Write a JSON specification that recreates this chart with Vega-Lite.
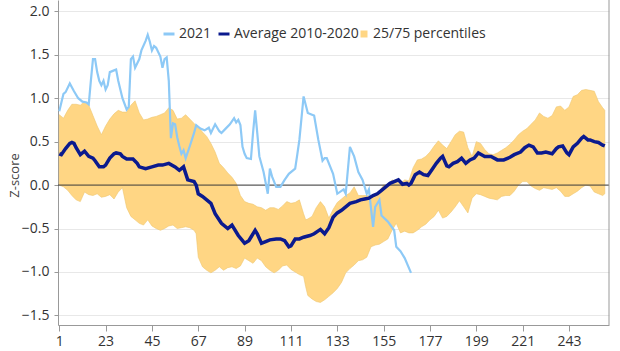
{
"$schema": "https://vega.github.io/schema/vega-lite/v6.json",
"autosize": "none",
"width": 551,
"height": 325,
"padding": {"left": 58, "top": 0, "right": 11, "bottom": 26},
"background": "white",
"config": {
 "font": "Open Sans",
 "view": {"stroke": null},
 "axis": {"labelFont": "Open Sans", "labelFontSize": 14, "labelColor": "#333", "domainColor": "#999", "tickColor": "#999", "titleFont": "Open Sans"},
 "legend": {"labelFont": "Open Sans", "labelFontSize": 14, "labelColor": "#333", "padding": 0}
},
"datasets": {
 "band": [
{"day":1,"p75":0.81,"p25":0.0},{"day":3,"p75":0.77,"p25":-0.02},{"day":5,"p75":0.86,"p25":-0.06},{"day":7,"p75":0.93,"p25":-0.12},{"day":9,"p75":0.93,"p25":-0.17},{"day":11,"p75":0.92,"p25":-0.19},{"day":13,"p75":0.96,"p25":-0.08},{"day":15,"p75":0.92,"p25":-0.11},{"day":17,"p75":0.8,"p25":-0.12},{"day":19,"p75":0.68,"p25":-0.1},{"day":21,"p75":0.58,"p25":-0.14},{"day":23,"p75":0.68,"p25":-0.13},{"day":25,"p75":0.76,"p25":-0.11},{"day":27,"p75":0.82,"p25":-0.16},{"day":29,"p75":0.86,"p25":-0.08},{"day":31,"p75":0.84,"p25":-0.03},{"day":33,"p75":0.84,"p25":-0.26},{"day":35,"p75":0.92,"p25":-0.36},{"day":37,"p75":0.97,"p25":-0.4},{"day":39,"p75":0.83,"p25":-0.44},{"day":41,"p75":0.75,"p25":-0.46},{"day":43,"p75":0.76,"p25":-0.4},{"day":45,"p75":0.78,"p25":-0.47},{"day":47,"p75":0.79,"p25":-0.5},{"day":49,"p75":0.81,"p25":-0.52},{"day":51,"p75":0.83,"p25":-0.5},{"day":53,"p75":0.89,"p25":-0.47},{"day":55,"p75":0.86,"p25":-0.46},{"day":57,"p75":0.76,"p25":-0.5},{"day":59,"p75":0.77,"p25":-0.49},{"day":61,"p75":0.81,"p25":-0.48},{"day":63,"p75":0.76,"p25":-0.49},{"day":65,"p75":0.71,"p25":-0.52},{"day":66,"p75":0.68,"p25":-0.56},{"day":67,"p75":0.67,"p25":-0.83},{"day":69,"p75":0.61,"p25":-0.94},{"day":71,"p75":0.56,"p25":-0.98},{"day":73,"p75":0.48,"p25":-1.01},{"day":75,"p75":0.38,"p25":-0.98},{"day":77,"p75":0.25,"p25":-0.94},{"day":79,"p75":0.2,"p25":-0.98},{"day":81,"p75":0.14,"p25":-0.95},{"day":83,"p75":0.09,"p25":-0.94},{"day":85,"p75":0.02,"p25":-0.96},{"day":87,"p75":-0.12,"p25":-0.93},{"day":89,"p75":-0.19,"p25":-0.84},{"day":91,"p75":-0.21,"p25":-0.87},{"day":93,"p75":-0.22,"p25":-0.9},{"day":95,"p75":-0.25,"p25":-0.84},{"day":97,"p75":-0.26,"p25":-0.87},{"day":99,"p75":-0.29,"p25":-0.94},{"day":101,"p75":-0.26,"p25":-0.98},{"day":103,"p75":-0.26,"p25":-1.01},{"day":105,"p75":-0.28,"p25":-0.98},{"day":107,"p75":-0.24,"p25":-0.93},{"day":109,"p75":-0.19,"p25":-0.92},{"day":111,"p75":-0.21,"p25":-0.97},{"day":113,"p75":-0.2,"p25":-1.0},{"day":115,"p75":-0.17,"p25":-1.03},{"day":117,"p75":-0.33,"p25":-1.05},{"day":118,"p75":-0.4,"p25":-1.17},{"day":119,"p75":-0.39,"p25":-1.27},{"day":121,"p75":-0.36,"p25":-1.31},{"day":123,"p75":-0.26,"p25":-1.34},{"day":125,"p75":-0.19,"p25":-1.35},{"day":127,"p75":-0.25,"p25":-1.32},{"day":129,"p75":-0.38,"p25":-1.28},{"day":131,"p75":-0.28,"p25":-1.24},{"day":133,"p75":-0.2,"p25":-1.19},{"day":135,"p75":-0.16,"p25":-1.12},{"day":137,"p75":-0.12,"p25":-1.01},{"day":139,"p75":-0.09,"p25":-0.96},{"day":141,"p75":-0.02,"p25":-0.92},{"day":143,"p75":-0.12,"p25":-0.87},{"day":145,"p75":-0.12,"p25":-0.86},{"day":147,"p75":-0.12,"p25":-0.83},{"day":149,"p75":-0.13,"p25":-0.71},{"day":151,"p75":-0.11,"p25":-0.69},{"day":153,"p75":-0.07,"p25":-0.68},{"day":155,"p75":0.0,"p25":-0.65},{"day":157,"p75":0.0,"p25":-0.62},{"day":159,"p75":0.06,"p25":-0.52},{"day":161,"p75":0.04,"p25":-0.44},{"day":163,"p75":0.02,"p25":-0.55},{"day":165,"p75":0.06,"p25":-0.53},{"day":167,"p75":0.05,"p25":-0.55},{"day":169,"p75":0.2,"p25":-0.55},{"day":171,"p75":0.29,"p25":-0.52},{"day":173,"p75":0.3,"p25":-0.48},{"day":175,"p75":0.33,"p25":-0.45},{"day":177,"p75":0.38,"p25":-0.4},{"day":179,"p75":0.45,"p25":-0.36},{"day":181,"p75":0.51,"p25":-0.29},{"day":183,"p75":0.46,"p25":-0.38},{"day":185,"p75":0.42,"p25":-0.36},{"day":187,"p75":0.5,"p25":-0.31},{"day":189,"p75":0.58,"p25":-0.25},{"day":191,"p75":0.62,"p25":-0.18},{"day":193,"p75":0.61,"p25":-0.25},{"day":195,"p75":0.43,"p25":-0.32},{"day":197,"p75":0.33,"p25":-0.15},{"day":199,"p75":0.5,"p25":-0.1},{"day":201,"p75":0.48,"p25":-0.11},{"day":203,"p75":0.41,"p25":-0.13},{"day":205,"p75":0.36,"p25":-0.15},{"day":207,"p75":0.35,"p25":-0.16},{"day":209,"p75":0.37,"p25":-0.17},{"day":211,"p75":0.4,"p25":-0.13},{"day":213,"p75":0.43,"p25":-0.12},{"day":215,"p75":0.47,"p25":-0.12},{"day":217,"p75":0.52,"p25":-0.07},{"day":219,"p75":0.58,"p25":0.0},{"day":221,"p75":0.62,"p25":0.04},{"day":223,"p75":0.65,"p25":0.04},{"day":225,"p75":0.7,"p25":-0.01},{"day":227,"p75":0.75,"p25":-0.04},{"day":229,"p75":0.83,"p25":-0.06},{"day":231,"p75":0.79,"p25":-0.03},{"day":233,"p75":0.77,"p25":-0.04},{"day":235,"p75":0.8,"p25":-0.05},{"day":237,"p75":0.9,"p25":-0.03},{"day":239,"p75":0.91,"p25":-0.07},{"day":241,"p75":0.86,"p25":-0.13},{"day":243,"p75":0.9,"p25":-0.13},{"day":245,"p75":1.02,"p25":-0.1},{"day":247,"p75":1.04,"p25":-0.07},{"day":249,"p75":1.09,"p25":-0.03},{"day":251,"p75":1.1,"p25":0.0},{"day":253,"p75":1.09,"p25":-0.01},{"day":255,"p75":1.08,"p25":-0.08},{"day":257,"p75":0.96,"p25":-0.1},{"day":259,"p75":0.89,"p25":-0.12},{"day":260,"p75":0.86,"p25":-0.1}
 ],
 "avg": [
{"day":1,"value":0.36},{"day":2,"value":0.35},{"day":4,"value":0.42},{"day":6,"value":0.48},{"day":7,"value":0.49},{"day":8,"value":0.48},{"day":9,"value":0.43},{"day":11,"value":0.35},{"day":13,"value":0.39},{"day":15,"value":0.33},{"day":17,"value":0.31},{"day":18,"value":0.28},{"day":20,"value":0.21},{"day":22,"value":0.21},{"day":23,"value":0.23},{"day":25,"value":0.31},{"day":27,"value":0.36},{"day":28,"value":0.37},{"day":30,"value":0.36},{"day":31,"value":0.33},{"day":33,"value":0.3},{"day":36,"value":0.3},{"day":38,"value":0.25},{"day":39,"value":0.21},{"day":42,"value":0.19},{"day":45,"value":0.21},{"day":48,"value":0.23},{"day":50,"value":0.23},{"day":53,"value":0.25},{"day":56,"value":0.21},{"day":58,"value":0.17},{"day":60,"value":0.21},{"day":62,"value":0.06},{"day":65,"value":0.04},{"day":66,"value":0.0},{"day":67,"value":-0.1},{"day":69,"value":-0.13},{"day":71,"value":-0.17},{"day":73,"value":-0.21},{"day":75,"value":-0.33},{"day":78,"value":-0.44},{"day":81,"value":-0.5},{"day":83,"value":-0.46},{"day":86,"value":-0.58},{"day":88,"value":-0.64},{"day":89,"value":-0.67},{"day":91,"value":-0.64},{"day":92,"value":-0.6},{"day":94,"value":-0.52},{"day":95,"value":-0.56},{"day":97,"value":-0.67},{"day":99,"value":-0.65},{"day":101,"value":-0.63},{"day":104,"value":-0.62},{"day":106,"value":-0.62},{"day":108,"value":-0.64},{"day":110,"value":-0.71},{"day":111,"value":-0.7},{"day":113,"value":-0.62},{"day":115,"value":-0.62},{"day":117,"value":-0.6},{"day":120,"value":-0.58},{"day":122,"value":-0.56},{"day":125,"value":-0.51},{"day":127,"value":-0.56},{"day":129,"value":-0.49},{"day":131,"value":-0.37},{"day":133,"value":-0.32},{"day":135,"value":-0.29},{"day":137,"value":-0.25},{"day":139,"value":-0.21},{"day":142,"value":-0.19},{"day":144,"value":-0.17},{"day":146,"value":-0.16},{"day":148,"value":-0.15},{"day":150,"value":-0.12},{"day":152,"value":-0.1},{"day":154,"value":-0.06},{"day":156,"value":-0.02},{"day":158,"value":0.02},{"day":160,"value":0.04},{"day":162,"value":0.06},{"day":164,"value":0.01},{"day":166,"value":0.02},{"day":167,"value":0.0},{"day":168,"value":0.02},{"day":170,"value":0.12},{"day":172,"value":0.15},{"day":174,"value":0.12},{"day":176,"value":0.11},{"day":178,"value":0.18},{"day":180,"value":0.25},{"day":182,"value":0.31},{"day":183,"value":0.33},{"day":185,"value":0.22},{"day":186,"value":0.21},{"day":188,"value":0.25},{"day":190,"value":0.27},{"day":192,"value":0.31},{"day":194,"value":0.25},{"day":196,"value":0.29},{"day":198,"value":0.31},{"day":200,"value":0.37},{"day":203,"value":0.33},{"day":206,"value":0.33},{"day":209,"value":0.29},{"day":212,"value":0.29},{"day":215,"value":0.32},{"day":217,"value":0.35},{"day":220,"value":0.38},{"day":222,"value":0.43},{"day":224,"value":0.46},{"day":226,"value":0.44},{"day":228,"value":0.37},{"day":230,"value":0.37},{"day":232,"value":0.38},{"day":235,"value":0.36},{"day":237,"value":0.42},{"day":238,"value":0.44},{"day":240,"value":0.45},{"day":242,"value":0.37},{"day":243,"value":0.35},{"day":245,"value":0.44},{"day":247,"value":0.48},{"day":249,"value":0.54},{"day":250,"value":0.56},{"day":252,"value":0.52},{"day":253,"value":0.52},{"day":255,"value":0.5},{"day":257,"value":0.49},{"day":259,"value":0.46},{"day":260,"value":0.45}
 ],
 "y2021": [
{"day":1,"value":0.85},{"day":2,"value":0.95},{"day":3,"value":1.05},{"day":4,"value":1.07},{"day":6,"value":1.17},{"day":8,"value":1.08},{"day":10,"value":1.0},{"day":12,"value":0.96},{"day":14,"value":0.95},{"day":15,"value":0.93},{"day":16,"value":1.2},{"day":17,"value":1.45},{"day":18,"value":1.45},{"day":19,"value":1.3},{"day":20,"value":1.2},{"day":21,"value":1.15},{"day":22,"value":1.2},{"day":23,"value":1.1},{"day":24,"value":1.15},{"day":25,"value":1.3},{"day":27,"value":1.32},{"day":28,"value":1.33},{"day":29,"value":1.2},{"day":30,"value":1.1},{"day":31,"value":1.0},{"day":33,"value":0.87},{"day":34,"value":0.9},{"day":35,"value":1.45},{"day":36,"value":1.48},{"day":37,"value":1.35},{"day":39,"value":1.45},{"day":40,"value":1.55},{"day":42,"value":1.66},{"day":43,"value":1.73},{"day":44,"value":1.65},{"day":45,"value":1.55},{"day":46,"value":1.6},{"day":47,"value":1.58},{"day":49,"value":1.48},{"day":50,"value":1.35},{"day":51,"value":1.45},{"day":52,"value":1.47},{"day":53,"value":1.2},{"day":54,"value":0.54},{"day":55,"value":0.71},{"day":56,"value":0.7},{"day":57,"value":0.55},{"day":58,"value":0.45},{"day":59,"value":0.36},{"day":60,"value":0.4},{"day":61,"value":0.31},{"day":62,"value":0.38},{"day":63,"value":0.45},{"day":65,"value":0.6},{"day":66,"value":0.69},{"day":68,"value":0.65},{"day":70,"value":0.63},{"day":72,"value":0.66},{"day":73,"value":0.6},{"day":75,"value":0.7},{"day":77,"value":0.62},{"day":78,"value":0.6},{"day":80,"value":0.65},{"day":82,"value":0.7},{"day":84,"value":0.77},{"day":85,"value":0.72},{"day":86,"value":0.75},{"day":87,"value":0.69},{"day":88,"value":0.44},{"day":89,"value":0.36},{"day":90,"value":0.31},{"day":92,"value":0.3},{"day":93,"value":0.6},{"day":94,"value":0.86},{"day":95,"value":0.6},{"day":96,"value":0.33},{"day":98,"value":0.15},{"day":100,"value":-0.1},{"day":101,"value":0.19},{"day":102,"value":0.1},{"day":104,"value":-0.02},{"day":106,"value":-0.02},{"day":108,"value":0.06},{"day":110,"value":0.13},{"day":113,"value":0.19},{"day":114,"value":0.35},{"day":115,"value":0.52},{"day":117,"value":1.02},{"day":119,"value":0.83},{"day":121,"value":0.81},{"day":122,"value":0.8},{"day":124,"value":0.52},{"day":126,"value":0.28},{"day":127,"value":0.31},{"day":128,"value":0.31},{"day":131,"value":0.13},{"day":133,"value":-0.1},{"day":136,"value":-0.05},{"day":137,"value":-0.1},{"day":139,"value":0.44},{"day":141,"value":0.33},{"day":143,"value":0.15},{"day":145,"value":0.06},{"day":147,"value":-0.1},{"day":148,"value":-0.05},{"day":150,"value":-0.48},{"day":151,"value":-0.25},{"day":153,"value":-0.17},{"day":154,"value":-0.35},{"day":157,"value":-0.42},{"day":160,"value":-0.52},{"day":161,"value":-0.71},{"day":163,"value":-0.76},{"day":165,"value":-0.84},{"day":168,"value":-1.01}
 ],
 "zero": [{"v": 0}],
 "edge": [{"x": 262}]
},
"layer": [
 {
  "data": {"name": "band"},
  "mark": {"type": "area", "stroke": "#efc66e", "strokeWidth": 0.6},
  "encoding": {
   "x": {"field": "day", "type": "quantitative", "scale": {"domain": [0.4, 262], "nice": false, "zero": false},
         "axis": {"values": [1,23,45,67,89,111,133,155,177,199,221,243], "grid": false, "title": null, "tickSize": 6, "labelPadding": 3}},
   "y": {"field": "p75", "type": "quantitative", "scale": {"domain": [-1.61, 2.13], "nice": false, "zero": false},
         "axis": {"values": [-1.5,-1,-0.5,0,0.5,1,1.5,2], "format": ".1f", "grid": true, "gridColor": "#e8e8e8", "tickSize": 4, "labelPadding": 5,
                  "title": "Z-score", "titleFontSize": 13, "titleFontWeight": "normal", "titleColor": "#444", "titleX": -44, "titleY": 175, "titleBaseline": "middle"}},
   "y2": {"field": "p25"},
   "fill": {"datum": "25/75 percentiles", "type": "nominal", "scale": {"domain": ["25/75 percentiles"], "range": ["#FFD684"]},
            "legend": {"orient": "none", "legendX": 299, "legendY": 27, "title": null, "symbolType": "square", "symbolSize": 49, "symbolStrokeWidth": 0, "labelOffset": 2}}
  }
 },
 {
  "data": {"name": "zero"},
  "mark": {"type": "rule", "color": "#3a3a3a", "strokeWidth": 1},
  "encoding": {"y": {"field": "v", "type": "quantitative"}}
 },
 {
  "data": {"name": "edge"},
  "mark": {"type": "rule", "color": "#999", "strokeWidth": 1},
  "encoding": {"x": {"field": "x", "type": "quantitative"}}
 },
 {
  "data": {"name": "y2021"},
  "mark": {"type": "line", "strokeWidth": 2.2, "interpolate": "linear"},
  "encoding": {
   "x": {"field": "day", "type": "quantitative"},
   "y": {"field": "value", "type": "quantitative"},
   "color": {"datum": "2021", "type": "nominal", "scale": {"domain": ["2021", "Average 2010-2020"], "range": ["#8DC9F6", "#0B1A8E"]},
             "legend": {"orient": "none", "legendX": 104, "legendY": 27, "title": null, "direction": "horizontal", "symbolType": "stroke", "symbolSize": 121, "symbolStrokeWidth": 3, "labelOffset": 3, "columnPadding": 0}}
  }
 },
 {
  "data": {"name": "avg"},
  "mark": {"type": "line", "strokeWidth": 3.5},
  "encoding": {
   "x": {"field": "day", "type": "quantitative"},
   "y": {"field": "value", "type": "quantitative"},
   "color": {"datum": "Average 2010-2020", "type": "nominal"}
  }
 }
]
}
